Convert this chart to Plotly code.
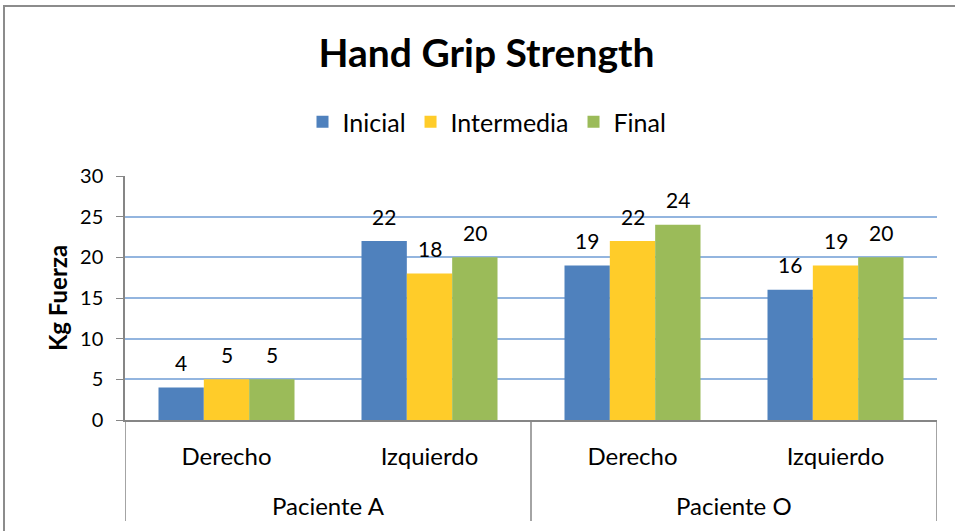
import plotly.graph_objects as go

pacientes = ["Paciente A", "Paciente A", "Paciente O", "Paciente O"]
lados = ["Derecho", "Izquierdo", "Derecho", "Izquierdo"]
series_names = ["Inicial", "Intermedia", "Final"]
inicial = [4, 22, 19, 16]
intermedia = [5, 18, 22, 19]
final = [5, 20, 24, 20]
colors = ["#4F81BD", "#FFCC29", "#9BBB59"]

FONT = "Lato"
W, H = 955, 531
L, R, T, B = 125, 18, 176, 111
pw, ph = W - L - R, H - T - B
BARGAP = 0.33


def px_x(p):
    return (p - L) / pw


def px_y(p):
    return 1 - (p - T) / ph


idx = list(range(len(lados)))
series = [inicial, intermedia, final]
n = len(series)

fig = go.Figure()
annotations = []
for k, (name, vals, col) in enumerate(zip(series_names, series, colors)):
    fig.add_trace(go.Bar(
        x=idx, y=vals, name=name,
        marker=dict(color=col, line=dict(width=0)),
        hoverinfo="x+y+name",
    ))
    off = (k - (n - 1) / 2) * (1 - BARGAP) / n
    for i, v in zip(idx, vals):
        annotations.append(dict(
            x=i + off, y=v, xref="x", yref="y", text=str(v), showarrow=False,
            yanchor="middle", yshift=25,
            font=dict(family=FONT, size=21, color="#000000"),
        ))

# group (patient) labels and dividers on the category scale
groups = []
for i, p in enumerate(pacientes):
    if not groups or groups[-1][0] != p:
        groups.append([p, i, i])
    else:
        groups[-1][2] = i

shapes = []
for p, i0, i1 in groups:
    annotations.append(dict(
        x=(i0 + i1) / 2, y=px_y(505), xref="x", yref="paper", text=p,
        showarrow=False, yanchor="middle",
        font=dict(family=FONT, size=24, color="#000000"),
    ))
    shapes.append(dict(type="line", xref="x", yref="paper", x0=i0 - 0.5, x1=i0 - 0.5,
                       y0=0, y1=px_y(521), line=dict(color="#868686", width=1.5)))
shapes.append(dict(type="line", xref="x", yref="paper", x0=groups[-1][2] + 0.5,
                   x1=groups[-1][2] + 0.5, y0=0, y1=px_y(521),
                   line=dict(color="#868686", width=1.5)))
shapes.append(dict(type="rect", xref="paper", yref="paper",
                   x0=px_x(4), x1=px_x(W + 20), y0=px_y(H + 20), y1=px_y(6),
                   line=dict(color="#8C8C8C", width=2), fillcolor="rgba(0,0,0,0)",
                   layer="below"))

fig.update_layout(
    width=W, height=H,
    margin=dict(l=L, r=R, t=T, b=B),
    paper_bgcolor="white", plot_bgcolor="white",
    barmode="group", bargap=BARGAP, bargroupgap=0,
    font=dict(family=FONT, size=20, color="#000000"),
    title=dict(text="<b>Hand Grip Strength</b>", x=486.5 / W, xanchor="center",
               y=1 - 53 / H, yanchor="middle",
               font=dict(family=FONT, size=39, color="#000000")),
    legend=dict(orientation="h", x=px_x(487), xanchor="center", y=px_y(122),
                yanchor="middle", font=dict(family=FONT, size=25),
                itemwidth=30, traceorder="normal"),
    showlegend=True,
    annotations=annotations,
    shapes=shapes,
)
fig.update_yaxes(
    range=[0, 30], dtick=5, showgrid=True, gridcolor="#93B5DF", gridwidth=1.5,
    showline=True, linecolor="#868686", linewidth=1.5,
    ticks="outside", ticklen=7, tickcolor="#868686",
    tickfont=dict(family=FONT, size=20), ticklabelstandoff=9,
    title=dict(text="<b>Kg Fuerza</b>", font=dict(family=FONT, size=24), standoff=6),
    zeroline=False,
)
fig.update_xaxes(
    range=[-0.5, len(lados) - 0.5], tickmode="array", tickvals=idx, ticktext=lados,
    showline=True, linecolor="#868686", linewidth=1.5,
    tickfont=dict(family=FONT, size=24), ticks="", ticklabelstandoff=14,
    showgrid=False, zeroline=False,
)
fig.write_html("out.html", config={"displayModeBar": False},
               post_script="document.body.style.margin='0px';")
